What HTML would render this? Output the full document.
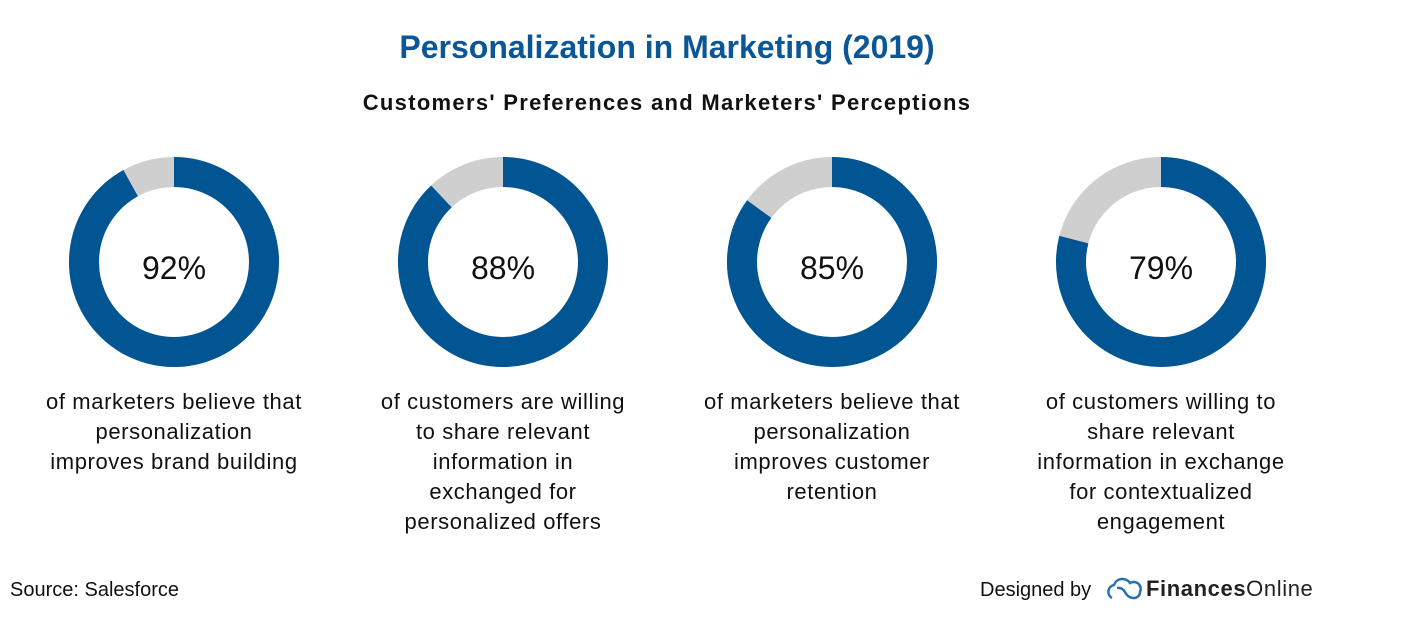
<!DOCTYPE html>
<html><head><meta charset="utf-8"><style>
body{margin:0;background:#fff;}
svg{display:block;font-family:"Liberation Sans",sans-serif;}
</style></head><body>
<svg id="c" width="1414" height="627" viewBox="0 0 1414 627">
<text x="667" y="58" text-anchor="middle" font-size="32" font-weight="bold" fill="#0b5696">Personalization in Marketing (2019)</text>
<text x="667" y="110" text-anchor="middle" font-size="22" font-weight="bold" fill="#111" letter-spacing="1.3">Customers' Preferences and Marketers' Perceptions</text>
<g id="donuts"></g>
<text x="10" y="596" font-size="20" fill="#111">Source: Salesforce</text>
<text x="980" y="596" font-size="20" fill="#111">Designed by</text>
<g fill="none" stroke="#2a6fb0" stroke-width="2.5">
<path d="M1112 598 a7 7 0 0 1 2-13 a9 9 0 0 1 16-2 a7 7 0 0 1 10 9 a6 6 0 0 1-6 6 q-6 0-9-6 q-3-5-8-4"/>
</g>
<text x="1146" y="596" font-size="22" fill="#222" letter-spacing="0.6"><tspan font-weight="bold">Finances</tspan>Online</text>
</svg>
<script>
const values=[92,88,85,79];
const labels=["92%","88%","85%","79%"];
const captions=[
["of marketers believe that","personalization","improves brand building"],
["of customers are willing","to share relevant","information in","exchanged for","personalized offers"],
["of marketers believe that","personalization","improves customer","retention"],
["of customers willing to","share relevant","information in exchange","for contextualized","engagement"]];
const NS="http://www.w3.org/2000/svg";
const g=document.getElementById('donuts');
const cx0=174,dx=329,cy=262,R=90,W=30;
function mk(t,a){const e=document.createElementNS(NS,t);for(const k in a)e.setAttribute(k,a[k]);return e;}
values.forEach((v,i)=>{
 const cx=cx0+i*dx;
 const grp=mk('g',{});
 
 
 const bg=mk('circle',{cx:cx,cy:cy,r:R,fill:'none',stroke:'#cfcfcf','stroke-width':W});
 
 
 grp.appendChild(bg);
 const a=v/100*2*Math.PI;
 const x2=cx+R*Math.sin(a),y2=cy-R*Math.cos(a);
 const large=v>50?1:0;
 const arc=mk('path',{d:`M${cx} ${cy-R} A${R} ${R} 0 ${large} 1 ${x2} ${y2}`,fill:'none',stroke:'#005592','stroke-width':W});
 
 
 grp.appendChild(arc);
 const t=mk('text',{x:cx,y:cy+17,'text-anchor':'middle','font-size':32,fill:'#111'});
 t.textContent=labels[i];
 
 
 grp.appendChild(t);
 captions[i].forEach((line,j)=>{
  const c=mk('text',{x:cx,y:409+j*30,'text-anchor':'middle','font-size':22,fill:'#111','letter-spacing':'0.6'});
  c.textContent=line;
  
  
  grp.appendChild(c);
 });
 g.appendChild(grp);
});
</script>
</body></html>
